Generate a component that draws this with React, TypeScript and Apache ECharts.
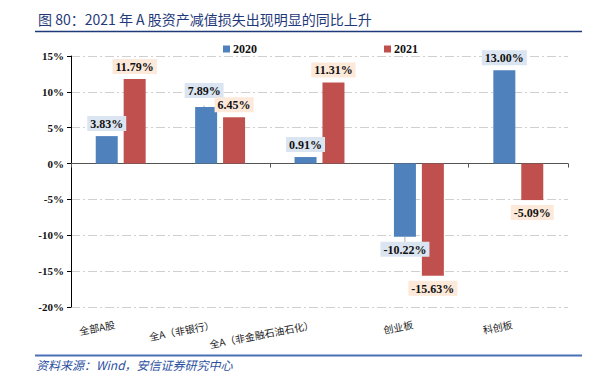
import React, { useEffect, useRef } from "react";
import * as echarts from "echarts";

const categories = ["全部A股", "全A（非银行）", "全A（非金融石油石化）", "创业板", "科创板"];
const values2020 = [3.83, 7.89, 0.91, -10.22, 13.0];
const values2021 = [11.79, 6.45, 11.31, -15.63, -5.09];
const yTicks = [-20, -15, -10, -5, 0, 5, 10, 15];
const Y_MIN = -20;
const Y_MAX = 15;

const BLUE = "#4f81bd";
const RED = "#c0504d";
const SERIF = "'Liberation Serif', 'Times New Roman', serif";
const CJK = "'Noto Sans CJK SC', sans-serif";

export default function App() {
  const ref = useRef<HTMLDivElement>(null);
  useEffect(() => {
    if (!ref.current) return;
    const chart = echarts.init(ref.current, undefined, { renderer: "svg" });
    const labelBase = (bg: string) => ({
      show: true,
      fontFamily: SERIF,
      fontWeight: "bold",
      fontSize: 12,
      color: "#111",
      backgroundColor: bg,
      padding: [2, 3, 1, 3],
      distance: 5,
      formatter: (p: any) => p.value.toFixed(2) + "%",
    });
    const mk = (vals: number[], special?: (i: number) => any) =>
      vals.map((v, i) => {
        const item: any = {
          value: v,
          label: { position: v >= 0 ? "top" : "bottom" },
        };
        if (special) Object.assign(item, special(i) || {});
        return item;
      });
    chart.setOption({
      animation: false,
      title: {
        text: "图 80：2021 年 A 股资产减值损失出现明显的同比上升",
        left: 33,
        top: 7,
        textStyle: { color: "#1f3a7a", fontSize: 14, fontWeight: "normal", fontFamily: CJK },
      },
      legend: [
        {
          data: ["2020"],
          left: 218,
          top: 38,
          itemWidth: 7,
          itemHeight: 7,
          icon: "rect",
          textStyle: { fontFamily: SERIF, fontWeight: "bold", fontSize: 12, color: "#111", padding: [0, 0, 0, -2] },
        },
        {
          data: ["2021"],
          left: 379,
          top: 38,
          itemWidth: 7,
          itemHeight: 7,
          icon: "rect",
          textStyle: { fontFamily: SERIF, fontWeight: "bold", fontSize: 12, color: "#111", padding: [0, 0, 0, -2] },
        },
      ],
      grid: { left: 71, right: 31, top: 56, bottom: 71 },
      xAxis: {
        type: "category",
        data: categories,
        axisLine: { onZero: true, lineStyle: { color: "#555", width: 1 } },
        axisTick: { show: true, length: 4, lineStyle: { color: "#555" } },
        axisLabel: { show: false },
      },
      yAxis: {
        type: "value",
        min: Y_MIN,
        max: Y_MAX,
        interval: 5,
        axisLine: { show: true, lineStyle: { color: "#000", width: 1 } },
        axisTick: { show: true, length: 4, lineStyle: { color: "#000" } },
        axisLabel: {
          formatter: (v: number) => (yTicks.includes(v) ? v + "%" : ""),
          fontFamily: SERIF,
          fontWeight: "bold",
          fontSize: 11,
          color: "#111",
          margin: 7,
        },
        splitLine: { lineStyle: { color: "#d0d0d0", type: [9, 3, 2, 3] } },
      },
      series: [
        {
          name: "2020",
          type: "bar",
          barWidth: 22,
          barGap: "27%",
          itemStyle: { color: BLUE },
          label: labelBase("#dbe5f1"),
          labelLine: { show: true, lineStyle: { color: "#999", width: 0.8 } },
          data: mk(values2020, (i) =>
            i === 1 ? { label: { position: "top", offset: [-2, -4] }, labelLine: { show: true } } : null
          ),
        },
        {
          name: "2021",
          type: "bar",
          barWidth: 22,
          barGap: "27%",
          itemStyle: { color: RED },
          label: labelBase("#fde9d9"),
          data: mk(values2021),
        },
        {
          name: "xlabels",
          type: "custom",
          silent: true,
          clip: false,
          z: 10,
          data: categories.map((_, i) => i),
          renderItem: (params: any, api: any) => {
            const idx = api.value(0);
            const pt = api.coord([idx, Y_MIN]);
            return {
              type: "group",
              x: pt[0] - 6,
              y: pt[1] + 17,
              rotation: 0.19,
              children: [
                {
                  type: "text",
                  style: {
                    text: categories[idx],
                    align: "right",
                    verticalAlign: "middle",
                    fontSize: 10,
                    fontFamily: CJK,
                    fill: "#222",
                  },
                },
              ],
            };
          },
        },
      ],
      graphic: [
        {
          type: "line",
          shape: { x1: 35, y1: 31.5, x2: 582, y2: 31.5 },
          style: { stroke: "#1f3a7a", lineWidth: 1.5 },
        },
        {
          type: "line",
          shape: { x1: 35, y1: 355.5, x2: 582, y2: 355.5 },
          style: { stroke: "#4a6fb5", lineWidth: 2 },
        },
        {
          type: "text",
          x: 36,
          y: 358,
          style: {
            text: "资料来源：Wind，安信证券研究中心",
            fill: "#2a4f9e",
            fontSize: 12,
            fontStyle: "italic",
            fontFamily: CJK,
          },
        },
      ],
    });
    return () => chart.dispose();
  }, []);
  return <div ref={ref} style={{ width: 599, height: 378, position: "absolute", left: 0, top: 0, background: "#fff" }} />;
}
